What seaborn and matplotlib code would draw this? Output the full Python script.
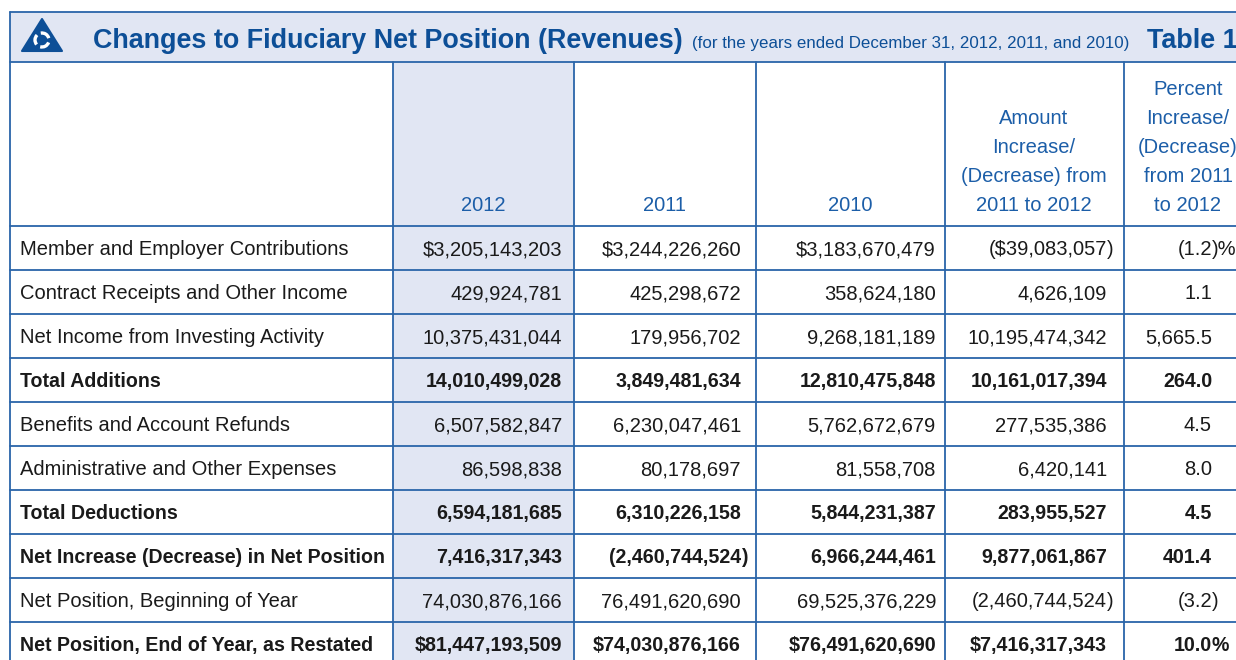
import matplotlib
matplotlib.use("Agg")
import matplotlib.pyplot as plt
import seaborn as sns
from matplotlib.patches import Polygon, Rectangle, Arc

# table content
row_labels = [
    "Member and Employer Contributions",
    "Contract Receipts and Other Income",
    "Net Income from Investing Activity",
    "Total Additions",
    "Benefits and Account Refunds",
    "Administrative and Other Expenses",
    "Total Deductions",
    "Net Increase (Decrease) in Net Position",
    "Net Position, Beginning of Year",
    "Net Position, End of Year, as Restated",
]
bold_rows = [3, 6, 7, 9]
dollar_rows = [0, 9]

year_headers = ["2012", "2011", "2010"]
amount_header = ["Amount", "Increase/", "(Decrease) from", "2011 to 2012"]
percent_header = ["Percent", "Increase/", "(Decrease)", "from 2011", "to 2012"]

values_2012 = [3205143203, 429924781, 10375431044, 14010499028, 6507582847,
               86598838, 6594181685, 7416317343, 74030876166, 81447193509]
values_2011 = [3244226260, 425298672, 179956702, 3849481634, 6230047461,
               80178697, 6310226158, -2460744524, 76491620690, 74030876166]
values_2010 = [3183670479, 358624180, 9268181189, 12810475848, 5762672679,
               81558708, 5844231387, 6966244461, 69525376229, 76491620690]
amount_change = [-39083057, 4626109, 10195474342, 10161017394, 277535386,
                 6420141, 283955527, 9877061867, -2460744524, 7416317343]
percent_change = [-1.2, 1.1, 5665.5, 264.0, 4.5, 8.0, 4.5, 401.4, -3.2, 10.0]


def fmt_money(v, i):
    s = f"{abs(v):,}"
    if i in dollar_rows:
        s = "$" + s
    if v < 0:
        s = "(" + s + ")"
    return s


def fmt_pct(v, i):
    s = f"{abs(v):,.1f}"
    if v < 0:
        s = "(" + s + ")"
    if i in dollar_rows:
        s = s + "%"
    return s


sns.set_theme(style="white")
plt.rcParams['font.family'] = ['Liberation Sans', 'DejaVu Sans']

blue = "#2a65a9"
fill = "#e1e6f3"
title_blue = "#0d4f97"
head_blue = "#1c5ea8"
ink = "#1a1a1a"
fs = 14.5
fs_bold = 14.1

fig = plt.figure(figsize=(12.36, 6.6), dpi=100)
ax = fig.add_axes([0, 0, 1, 1])
ax.set_xlim(0, 1236)
ax.set_ylim(660, 0)
ax.axis("off")

col_edges = [10, 393, 574, 756, 945, 1124, 1260]
head_top, head_bot = 62, 226
row_h = 44
n = len(row_labels)
row_edges = [head_bot + row_h * k for k in range(n + 1)]

# title band
ax.add_patch(Rectangle((10, 12), 1260, 50, facecolor=fill, edgecolor="none"))
ax.plot([10, 1260], [12, 12], color=blue, lw=1.3)
ax.plot([10, 1260], [62, 62], color=blue, lw=1.3)

# shaded 2012 column
ax.add_patch(Rectangle((col_edges[1], head_top), col_edges[2] - col_edges[1],
                       row_edges[-1] - head_top, facecolor=fill, edgecolor="none"))

# grid lines
ax.plot([10, 10], [12, row_edges[-1]], color=blue, lw=1.3)
for x in col_edges[1:-1]:
    ax.plot([x, x], [head_top, row_edges[-1]], color=blue, lw=1.3)
for y in row_edges:
    ax.plot([10, 1260], [y, y], color=blue, lw=1.3)

# logo
ax.add_patch(Polygon([(42, 19), (22, 51), (62, 51)], closed=True,
                     facecolor=title_blue, edgecolor=title_blue, lw=1.5,
                     joinstyle="round"))
for a in (0, 120, 240):
    ax.add_patch(Arc((42, 40), 14, 14, angle=a, theta1=20, theta2=105,
                     color="white", lw=2.4))

ax.text(93, 48, "Changes to Fiduciary Net Position (Revenues)", fontsize=19.4,
        fontweight="bold", color=title_blue, va="baseline", ha="left")
ax.text(692, 48, "(for the years ended December 31, 2012, 2011, and 2010)",
        fontsize=12.2, color=title_blue, va="baseline", ha="left")
ax.text(1147, 48, "Table 1", fontsize=19.4, fontweight="bold", color=title_blue,
        va="baseline", ha="left")

# column headers, one line at a time from the bottom up
for k, h in enumerate(year_headers):
    cx = (col_edges[k + 1] + col_edges[k + 2]) / 2
    ax.text(cx, 211, h, fontsize=fs, color=head_blue, ha="center", va="baseline")
for cx, lines in ((1034, amount_header), (1188, percent_header)):
    for j, line in enumerate(reversed(lines)):
        ax.text(cx, 211 - 29 * j, line, fontsize=fs, color=head_blue,
                ha="center", va="baseline")

# body
anchors = [562, 741, 936, 1107, 1212]
columns = [values_2012, values_2011, values_2010, amount_change]
for i, lab in enumerate(row_labels):
    y = row_edges[i] + 29
    bold = i in bold_rows
    w = "bold" if bold else "normal"
    size = fs_bold if bold else fs
    ax.text(20, y, lab, fontsize=size, fontweight=w, color=ink, ha="left", va="baseline")
    cells = [fmt_money(c[i], i) for c in columns] + [fmt_pct(percent_change[i], i)]
    for s, xa in zip(cells, anchors):
        core = s.rstrip(")%")
        tail = s[len(core):]
        ax.text(xa, y, core, fontsize=size, fontweight=w, color=ink, ha="right", va="baseline")
        if tail:
            ax.text(xa, y, tail, fontsize=size, fontweight=w, color=ink, ha="left", va="baseline")

fig.savefig("out.png", dpi=100)
